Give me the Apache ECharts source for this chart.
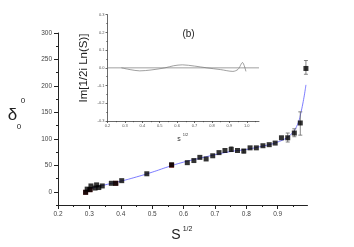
<!DOCTYPE html>
<html><head><meta charset="utf-8">
<script src="https://cdn.jsdelivr.net/npm/echarts@6/dist/echarts.min.js"></script>
<style>html,body{margin:0;padding:0;background:#fff}#c{width:354px;height:247px}</style>
</head><body><div id="c"></div>
<script>
// main data
var sqrtS = [0.288,0.293,0.302,0.305,0.318,0.323,0.33,0.341,0.37,0.384,0.403,0.483,0.562,0.612,0.633,0.652,0.672,0.693,0.713,0.732,0.752,0.772,0.792,0.812,0.832,0.853,0.873,0.892,0.912,0.932,0.953,0.972,0.99];
var delta = [-1,5,4,11,7,13,8,11,16,16,21,34,51,55,59,65,62,68,74,78,80,78,77,83,83,87,89,92,102,102,111,130,233];
var redX = [0.288,0.302,0.384,0.562];
var redY = [-1,4,16,50];
var errX = [0.562,0.752,0.792,0.932,0.953,0.972,0.99];
var errLo = [48,76,73,94,104,107,222];
var errHi = [54,85,80,111,119,151,248];
var fitX = [0.285,0.3,0.35,0.4,0.45,0.5,0.55,0.6,0.65,0.7,0.75,0.8,0.85,0.88,0.9,0.92,0.94,0.96,0.975,0.99];
var fitY = [0,5,13,20,28,37,47,56,63,70,76,80,86,90,94,99,107,123,152,202];
// inset data
var insetX = [0.28,0.33,0.385,0.45,0.53,0.58,0.63,0.7,0.77,0.85,0.92,0.95,0.975,0.995];
var insetY = [0,-0.01,-0.017,-0.012,0,0.012,0.017,0.01,0,-0.01,-0.02,-0.008,0.03,-0.02];
var insetZeroX = [0.2,1.07];
// ticks
var xMajor = [0.2,0.3,0.4,0.5,0.6,0.7,0.8,0.9];
var xMinor = [0.25,0.35,0.45,0.55,0.65,0.75,0.85,0.95];
var yMajor = [0,50,100,150,200,250,300];
var yMinor = [-25,25,75,125,175,225,275];
var ixMajor = [0.2,0.3,0.4,0.5,0.6,0.7,0.8,0.9,1.0];
var ixMinor = [0.25,0.35,0.45,0.55,0.65,0.75,0.85,0.95,1.05];
var iyMajor = [-0.3,-0.2,-0.1,0.0,0.1,0.2,0.3];
var iyMinor = [-0.25,-0.15,-0.05,0.05,0.15,0.25];

function zip(a,b){return a.map(function(v,i){return [v,b[i]];});}
var F = 'Liberation Sans, Arial, sans-serif';
var axC = '#222';
function valAxis(o){return Object.assign({type:'value',splitLine:{show:false},axisLine:{show:true,onZero:false,lineStyle:{color:axC,width:1}}},o);}
var hidden = {show:false,onZero:false};
var XMAX = 0.995;

var chart = echarts.init(document.getElementById('c'),null,{renderer:'canvas'});
chart.setOption({
  animation:false,
  textStyle:{fontFamily:F},
  grid:[
    {left:58,right:46.5,top:33,bottom:42},
    {left:107.5,right:95,top:14.7,bottom:126}
  ],
  xAxis:[
    valAxis({gridIndex:0,position:'bottom',min:0.2,max:XMAX,axisTick:{length:4,customValues:xMajor,lineStyle:{color:axC}},axisLabel:{customValues:xMajor,fontSize:6.5,color:'#444',margin:6,formatter:function(v){return v.toFixed(1);}}}),
    valAxis({gridIndex:0,position:'bottom',min:0.2,max:XMAX,axisLine:hidden,axisTick:{length:2,customValues:xMinor,lineStyle:{color:axC}},axisLabel:{show:false}}),
    valAxis({gridIndex:1,position:'bottom',min:0.2,max:1.07,axisLine:{show:true,onZero:false,lineStyle:{color:'#444',width:0.8}},axisTick:{length:2,customValues:ixMajor,lineStyle:{color:'#444',width:0.8}},axisLabel:{customValues:ixMajor,fontSize:4,color:'#555',margin:3,formatter:function(v){return v.toFixed(1);}}}),
    valAxis({gridIndex:1,position:'bottom',min:0.2,max:1.07,axisLine:hidden,axisTick:{length:1.2,customValues:ixMinor,lineStyle:{color:'#444',width:0.8}},axisLabel:{show:false}})
  ],
  yAxis:[
    valAxis({gridIndex:0,position:'left',min:-25,max:300,axisTick:{length:4,customValues:yMajor,lineStyle:{color:axC}},axisLabel:{customValues:yMajor,fontSize:6.5,color:'#444',margin:6}}),
    valAxis({gridIndex:0,position:'left',min:-25,max:300,axisLine:hidden,axisTick:{length:2,customValues:yMinor,lineStyle:{color:axC}},axisLabel:{show:false}}),
    valAxis({gridIndex:1,position:'left',min:-0.3,max:0.3,axisLine:{show:true,onZero:false,lineStyle:{color:'#444',width:0.8}},axisTick:{length:2,customValues:iyMajor,lineStyle:{color:'#444',width:0.8}},axisLabel:{customValues:iyMajor,fontSize:4,color:'#555',margin:3,formatter:function(v){return v.toFixed(1);}}}),
    valAxis({gridIndex:1,position:'left',min:-0.3,max:0.3,axisLine:hidden,axisTick:{length:1.2,customValues:iyMinor,lineStyle:{color:'#444',width:0.8}},axisLabel:{show:false}})
  ],
  series:[
    {type:'line',xAxisIndex:0,yAxisIndex:0,data:zip(fitX,fitY),smooth:0.5,showSymbol:false,lineStyle:{color:'#5a5aff',width:0.8},z:2},
    {type:'custom',xAxisIndex:0,yAxisIndex:0,clip:false,data:errX.map(function(x,i){return [x,errLo[i],errHi[i]];}),z:3,
      renderItem:function(params,api){
        var lo=api.coord([api.value(0),api.value(1)]);
        var hi=api.coord([api.value(0),api.value(2)]);
        var w=2;
        var st={stroke:'#666',lineWidth:0.8};
        return {type:'group',children:[
          {type:'line',shape:{x1:lo[0],y1:lo[1],x2:hi[0],y2:hi[1]},style:st},
          {type:'line',shape:{x1:lo[0]-w,y1:lo[1],x2:lo[0]+w,y2:lo[1]},style:st},
          {type:'line',shape:{x1:hi[0]-w,y1:hi[1],x2:hi[0]+w,y2:hi[1]},style:st}
        ]};
      }},
    {type:'scatter',xAxisIndex:0,yAxisIndex:0,clip:false,data:zip(redX,redY),symbol:'rect',symbolSize:5,itemStyle:{color:'#7a0a0a'},z:4},
    {type:'scatter',xAxisIndex:0,yAxisIndex:0,clip:false,data:zip(sqrtS,delta),symbol:'rect',symbolSize:5,itemStyle:{color:'#000'},z:5},
    {type:'line',xAxisIndex:2,yAxisIndex:2,data:zip(insetZeroX,[0,0]),showSymbol:false,lineStyle:{color:'#777',width:0.7}},
    {type:'line',xAxisIndex:2,yAxisIndex:2,data:zip(insetX,insetY),smooth:0.3,showSymbol:false,lineStyle:{color:'#777',width:0.7}}
  ],
  graphic:[
    {type:'text',x:12.5,y:115,style:{text:'δ',font:'17px '+F,fill:'#222',align:'center',verticalAlign:'middle'}},
    {type:'text',x:23,y:101,style:{text:'0',font:'8px '+F,fill:'#222',align:'center',verticalAlign:'middle'}},
    {type:'text',x:19,y:127,style:{text:'0',font:'8px '+F,fill:'#222',align:'center',verticalAlign:'middle'}},
    {type:'text',x:176,y:235,style:{text:'S',font:'14px '+F,fill:'#222',align:'center',verticalAlign:'middle'}},
    {type:'text',x:187.5,y:229,style:{text:'1/2',font:'7px '+F,fill:'#222',align:'center',verticalAlign:'middle'}},
    {type:'text',x:179,y:139,style:{text:'s',font:'7px '+F,fill:'#333',align:'center',verticalAlign:'middle'}},
    {type:'text',x:185.5,y:135,style:{text:'1/2',font:'4px '+F,fill:'#333',align:'center',verticalAlign:'middle'}},
    {type:'text',x:188.5,y:34,style:{text:'(b)',font:'10px '+F,fill:'#222',align:'center',verticalAlign:'middle'}},
    {type:'text',x:84,y:68,rotation:Math.PI/2,style:{text:'Im[1/2i Ln(S)]',font:'11.5px '+F,fill:'#222',align:'center',verticalAlign:'middle'}}
  ]
});
</script></body></html>
